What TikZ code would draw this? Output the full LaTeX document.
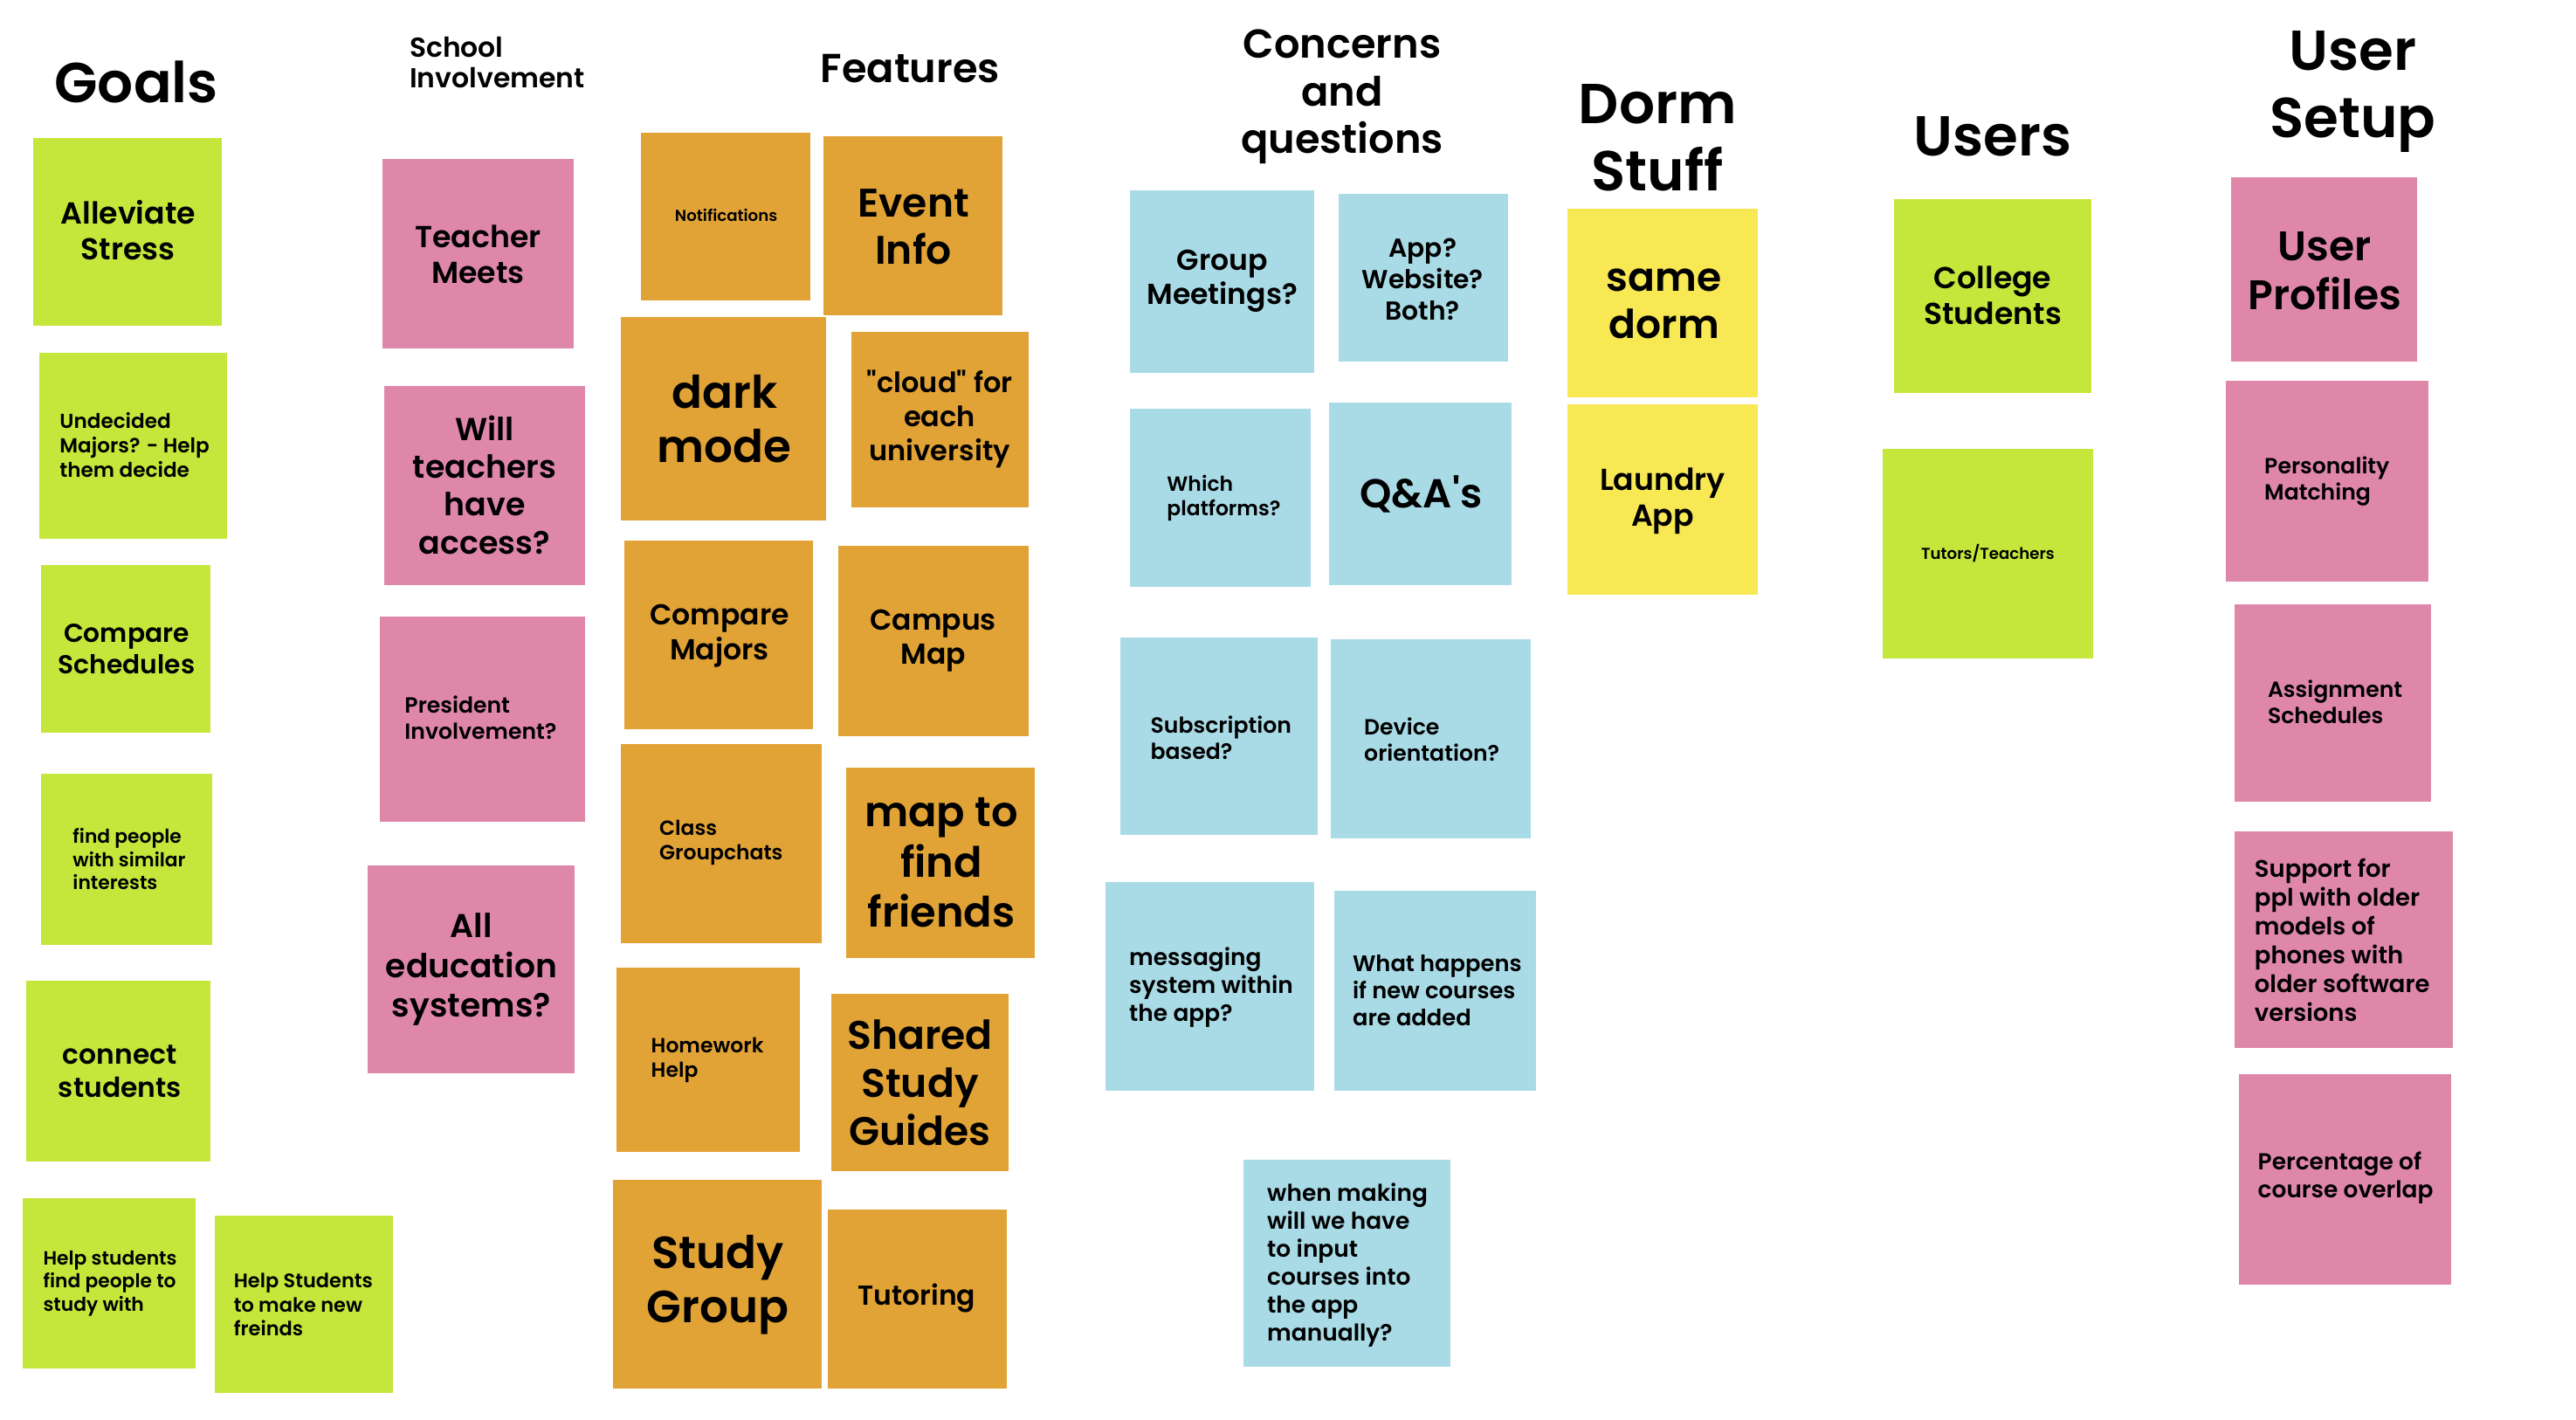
\documentclass[tikz,border=0pt]{standalone}
\usepackage{fontspec}
\setmainfont{Poppins}[BoldFont={Poppins SemiBold}, Ligatures=TeXOff]
\definecolor{limenote}{RGB}{197,230,59}
\definecolor{pinknote}{RGB}{223,135,169}
\definecolor{orangenote}{RGB}{226,163,54}
\definecolor{bluenote}{RGB}{169,219,231}
\definecolor{yellownote}{RGB}{247,232,84}
\tikzset{
	fsz/.style 2 args={font=\bfseries\fontsize{#1}{#2}\selectfont},
	txt/.style={inner sep=0pt, text=black},
	mid/.style={txt, align=center},
	lft/.style={txt, align=left, anchor=west},
	lime/.style={fill=limenote},
	pink/.style={fill=pinknote},
	orange/.style={fill=orangenote},
	blue/.style={fill=bluenote},
	yellow/.style={fill=yellownote}
}
\begin{document}
\begin{tikzpicture}[x=0.02cm,y=-0.02cm]
		%\draw [help lines] (0,0) grid (1568,864);
		\useasboundingbox (0,0) rectangle (1568,864);
		% headings
			\node [mid, fsz={19.5}{23.3}] (goals) at (83,50) {Goals};
			\node [lft, fsz={9.5}{10.8}] (school) at (249,38) {School\\Involvement};
			\node [mid, fsz={14}{16.5}] (features) at (554,42) {Features};
			\node [mid, fsz={14}{16.5}] (concerns) at (817,59) {Concerns\\and\\questions};
			\node [mid, fsz={19.5}{23.3}] (dorm) at (1009,84) {Dorm\\Stuff};
			\node [mid, fsz={19.5}{23.3}] (users) at (1213,83) {Users};
			\node [mid, fsz={19.5}{23.3}] (setup) at (1432,56) {User\\Setup};
		% goals
			\fill [lime] (20,84) rectangle (135,198);
			\node [mid, fsz={10.5}{12.5}] (alleviate) at (78,140) {Alleviate\\Stress};
			\fill [lime] (24,215) rectangle (138,328);
			\node [lft, fsz={7}{8.5}] (undecided) at (36,271) {Undecided\\Majors? - Help\\them decide};
			\fill [lime] (25,344) rectangle (128,446);
			\node [mid, fsz={9}{10.8}] (schedules) at (77,395) {Compare\\Schedules};
			\fill [lime] (25,471) rectangle (129,575);
			\node [lft, fsz={6.6}{8}] (similar) at (44,523) {find people\\with similar\\interests};
			\fill [lime] (16,597) rectangle (128,707);
			\node [mid, fsz={9.5}{11.4}] (connect) at (73,652) {connect\\students};
			\fill [lime] (14,729) rectangle (119,833);
			\node [lft, fsz={6.6}{8}] (studywith) at (26,781) {Help students\\find people to\\study with};
			\fill [lime] (131,740) rectangle (239,848);
			\node [lft, fsz={6.8}{8.2}] (freinds) at (142,794) {Help Students\\to make new\\freinds};
		% school involvement
			\fill [pink] (233,97) rectangle (349,212);
			\node [mid, fsz={10.5}{12.5}] (meets) at (291,155) {Teacher\\Meets};
			\fill [pink] (234,235) rectangle (356,356);
			\node [mid, fsz={11}{13.1}] (access) at (295,295) {Will\\teachers\\have\\access?};
			\fill [pink] (231,375) rectangle (356,500);
			\node [lft, fsz={7.6}{9.1}] (president) at (246,437) {President\\Involvement?};
			\fill [pink] (224,527) rectangle (350,653);
			\node [mid, fsz={11.4}{13.7}] (systems) at (287,590) {All\\education\\systems?};
		% features
			\fill [orange] (390,81) rectangle (493,183);
			\node [mid, fsz={5.5}{6.6}] (notif) at (442,131) {Notifications};
			\fill [orange] (501,83) rectangle (610,192);
			\node [mid, fsz={13.8}{16.5}] (event) at (556,138) {Event\\Info};
			\fill [orange] (378,193) rectangle (503,317);
			\node [mid, fsz={15.6}{18.8}] (dark) at (441,255) {dark\\mode};
			\fill [orange] (518,202) rectangle (626,309);
			\node [mid, fsz={9.7}{11.7}] (cloud) at (572,255) {"cloud" for\\each\\university};
			\fill [orange] (380,329) rectangle (495,444);
			\node [mid, fsz={10}{12}] (majors) at (438,387) {Compare\\Majors};
			\fill [orange] (510,332) rectangle (626,448);
			\node [mid, fsz={10}{12}] (campus) at (568,390) {Campus\\Map};
			\fill [orange] (378,453) rectangle (500,574);
			\node [lft, fsz={7.1}{8.5}] (groupchats) at (401,513) {Class\\Groupchats};
			\fill [orange] (515,467) rectangle (630,583);
			\node [mid, fsz={14.5}{17.4}] (mapfind) at (573,525) {map to\\find\\friends};
			\fill [orange] (375,589) rectangle (487,701);
			\node [lft, fsz={7.1}{8.5}] (homework) at (396,645) {Homework\\Help};
			\fill [orange] (506,605) rectangle (614,713);
			\node [mid, fsz={13.8}{16.5}] (guides) at (560,659) {Shared\\Study\\Guides};
			\fill [orange] (373,718) rectangle (500,845);
			\node [mid, fsz={15.6}{18.8}] (studygroup) at (437,782) {Study\\Group};
			\fill [orange] (504,736) rectangle (613,845);
			\node [mid, fsz={9.5}{11.4}] (tutoring) at (558,790) {Tutoring};
		% concerns and questions
			\fill [blue] (688,116) rectangle (800,227);
			\node [mid, fsz={10}{12}] (meetings) at (744,171) {Group\\Meetings?};
			\fill [blue] (815,118) rectangle (918,220);
			\node [mid, fsz={9}{10.8}] (appweb) at (866,170) {App?\\Website?\\Both?};
			\fill [blue] (688,249) rectangle (798,357);
			\node [lft, fsz={7.1}{8.5}] (platforms) at (710,303) {Which\\platforms?};
			\fill [blue] (809,245) rectangle (920,356);
			\node [mid, fsz={14}{16.5}] (qa) at (865,301) {Q\&A's};
			\fill [blue] (682,388) rectangle (802,508);
			\node [lft, fsz={7.6}{9.1}] (subscription) at (700,449) {Subscription\\based?};
			\fill [blue] (810,389) rectangle (932,510);
			\node [lft, fsz={7.6}{9.1}] (orientation) at (830,450) {Device\\orientation?};
			\fill [blue] (673,537) rectangle (800,664);
			\node [lft, fsz={8}{9.7}] (messaging) at (687,601) {messaging\\system within\\the app?};
			\fill [blue] (812,542) rectangle (935,664);
			\node [lft, fsz={7.8}{9.4}] (newcourses) at (823,603) {What happens\\if new courses\\are added};
			\fill [blue] (757,706) rectangle (883,832);
			\node [lft, fsz={8}{9.7}] (manually) at (771,770) {when making\\will we have\\to input\\courses into\\the app\\manually?};
		% dorm stuff
			\fill [yellow] (954,127) rectangle (1070,242);
			\node [mid, fsz={13.8}{16.5}] (samedorm) at (1013,185) {same\\dorm};
			\fill [yellow] (954,246) rectangle (1070,362);
			\node [mid, fsz={10.5}{12.5}] (laundry) at (1012,305) {Laundry\\App};
		% users
			\fill [lime] (1153,121) rectangle (1273,239);
			\node [mid, fsz={10.5}{12.5}] (college) at (1213,180) {College\\Students};
			\fill [lime] (1146,273) rectangle (1274,401);
			\node [mid, fsz={5.5}{6.6}] (tutors) at (1210,337) {Tutors/Teachers};
		% user setup
			\fill [pink] (1358,108) rectangle (1471,220);
			\node [mid, fsz={14.3}{17}] (profiles) at (1415,165) {User\\Profiles};
			\fill [pink] (1355,232) rectangle (1478,354);
			\node [lft, fsz={7.6}{9.1}] (personality) at (1378,293) {Personality\\Matching};
			\fill [pink] (1360,368) rectangle (1480,488);
			\node [lft, fsz={7.6}{9.1}] (assignment) at (1380,427) {Assignment\\Schedules};
			\fill [pink] (1360,506) rectangle (1493,638);
			\node [lft, fsz={8.3}{10}] (support) at (1372,572) {Support for\\ppl with older\\models of\\phones with\\older software\\versions};
			\fill [pink] (1363,654) rectangle (1492,782);
			\node [lft, fsz={8}{9.7}] (overlap) at (1374,717) {Percentage of\\course overlap};
	\end{tikzpicture}
\end{document}
